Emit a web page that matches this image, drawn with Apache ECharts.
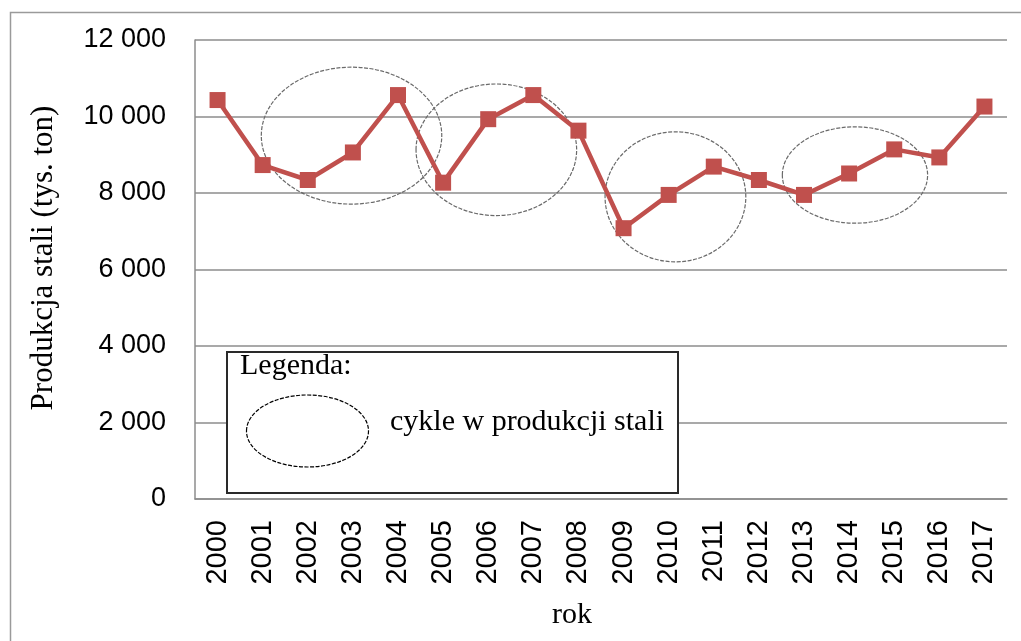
<!DOCTYPE html>
<html>
<head>
<meta charset="utf-8">
<script src="https://cdn.jsdelivr.net/npm/echarts@6/dist/echarts.min.js"></script>
<style>html,body{margin:0;padding:0;background:#fff}#c{width:1021px;height:641px}</style>
</head>
<body>
<div id="c"></div>
<script>
const years = ['2000','2001','2002','2003','2004','2005','2006','2007','2008','2009','2010','2011','2012','2013','2014','2015','2016','2017'];
const steel = [10430, 8730, 8340, 9060, 10560, 8270, 9930, 10560, 9630, 7080, 7950, 8690, 8340, 7950, 8510, 9140, 8930, 10260];
const yTicks = [0, 2000, 4000, 6000, 8000, 10000, 12000];
// cycle ellipses in data units: [centre category index, centre value, half-width in categories, half-height in value]
const cycleCentreIdx = [2.97, 6.18, 10.15, 14.13];
const cycleCentreVal = [9500, 9130, 7900, 8470];
const cycleHalfIdx = [2.0, 1.78, 1.56, 1.61];
const cycleHalfVal = [1790, 1720, 1700, 1260];
const legendTitle = 'Legenda:';
const legendLabel = 'cykle w produkcji stali';

const chart = echarts.init(document.getElementById('c'), null, {renderer: 'canvas'});
const fmt = v => String(v).replace(/\B(?=(\d{3})+(?!\d))/g, ' ');
const serif = '"Liberation Serif", "Times New Roman", serif';
const sans = '"Liberation Sans", Arial, sans-serif';

chart.setOption({
  animation: false,
  grid: {left: 195, right: 14, top: 40, bottom: 142},
  xAxis: {
    type: 'category',
    data: years,
    boundaryGap: true,
    name: 'rok',
    nameLocation: 'middle',
    nameGap: 101,
    nameTextStyle: {fontFamily: serif, fontSize: 30, color: '#000', padding: [0, 58, 0, 0]},
    axisLine: {lineStyle: {color: '#8c8c8c', width: 1.5}},
    axisTick: {show: false},
    axisLabel: {rotate: 90, fontFamily: sans, fontSize: 29, color: '#000', margin: 21, interval: 0}
  },
  yAxis: {
    type: 'value',
    min: yTicks[0],
    max: yTicks[yTicks.length - 1],
    interval: yTicks[1] - yTicks[0],
    name: 'Produkcja stali (tys. ton)',
    nameLocation: 'middle',
    nameRotate: 90,
    nameGap: 136,
    nameTextStyle: {fontFamily: serif, fontSize: 31, color: '#000', padding: [0, 0, 0, 23]},
    axisLine: {show: true, lineStyle: {color: '#8c8c8c', width: 1.5}},
    axisTick: {show: false},
    splitLine: {lineStyle: {color: '#8c8c8c', width: 1.5}},
    axisLabel: {fontFamily: sans, fontSize: 27, color: '#000', margin: 29, formatter: v => fmt(v)}
  },
  series: [{
    type: 'line',
    data: steel,
    symbol: 'rect',
    symbolSize: 16,
    lineStyle: {color: '#C0504D', width: 4.5},
    itemStyle: {color: '#C0504D'},
    z: 5
  }]
});

function drawGraphics() {
  const p0 = chart.convertToPixel({xAxisIndex: 0, yAxisIndex: 0}, [0, 0]);
  const p1 = chart.convertToPixel({xAxisIndex: 0, yAxisIndex: 0}, [1, 1000]);
  const dx = p1[0] - p0[0];
  const dy = (p1[1] - p0[1]) / 1000;
  const els = [];
  els.push({type: 'rect', left: 8, top: 10, shape: {width: 1100, height: 700},
    style: {fill: 'none', stroke: '#9a9a9a', lineWidth: 1.5}, silent: true, z: 1});
  for (let i = 0; i < cycleCentreIdx.length; i++) {
    els.push({type: 'ellipse', shape: {
      cx: p0[0] + cycleCentreIdx[i] * dx,
      cy: p0[1] + cycleCentreVal[i] * dy,
      rx: cycleHalfIdx[i] * dx,
      ry: Math.abs(cycleHalfVal[i] * dy)
    }, style: {fill: 'none', stroke: '#6a6a6a', lineWidth: 1.2, lineDash: [4, 1.5]}, silent: true, z: 2});
  }
  els.push({type: 'rect', shape: {x: 227, y: 352, width: 451, height: 141},
    style: {fill: '#fff', stroke: '#2a2a2a', lineWidth: 2}, z: 3, silent: true});
  els.push({type: 'text', x: 240, y: 366, style: {text: legendTitle, font: '30px ' + serif, fill: '#000', verticalAlign: 'middle'}, z: 4, silent: true});
  els.push({type: 'ellipse', shape: {cx: 307.5, cy: 431, rx: 61, ry: 36},
    style: {fill: 'none', stroke: '#000', lineWidth: 1.2, lineDash: [4, 1.5]}, z: 4, silent: true});
  els.push({type: 'text', x: 390, y: 422, style: {text: legendLabel, font: '30px ' + serif, fill: '#000', verticalAlign: 'middle'}, z: 4, silent: true});
  chart.setOption({graphic: {elements: els}});
}
drawGraphics();
</script>
</body>
</html>
